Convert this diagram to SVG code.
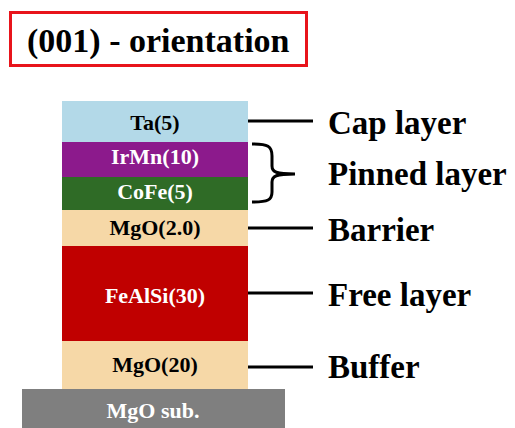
<svg xmlns="http://www.w3.org/2000/svg" width="515" height="428" viewBox="0 0 515 428">
<style>
.t{font-family:"Liberation Serif","Times New Roman",serif;font-weight:bold}
.lbl{font-size:33px;fill:#000}
.lay{font-size:22px;text-anchor:middle}
.dk{fill:#000}.wh{fill:#fff}
.ln{stroke:#000;stroke-width:3;fill:none}
</style>
<rect width="515" height="428" fill="#fff"/>
<g id="title">
<rect x="10.5" y="12.5" width="296" height="53" fill="none" stroke="#e8141b" stroke-width="3"/>
<text class="t" x="27" y="52" font-size="34">(001) - orientation</text>
</g>
<g id="ta"><rect x="62" y="101" width="186" height="41" fill="#b3d9e8"/><text class="t lay dk" x="155" y="130">Ta(5)</text></g>
<g id="irmn"><rect x="62" y="142" width="186" height="35" fill="#8c1a8c"/><text class="t lay wh" x="155" y="164">IrMn(10)</text></g>
<g id="cofe"><rect x="62" y="177" width="186" height="33" fill="#2f6b26"/><text class="t lay wh" x="155" y="199">CoFe(5)</text></g>
<g id="mgo2"><rect x="62" y="210" width="186" height="36" fill="#f6d8a7"/><text class="t lay dk" x="155" y="235">MgO(2.0)</text></g>
<g id="fealsi"><rect x="62" y="246" width="186" height="95" fill="#c00000"/><text class="t lay wh" x="155" y="303">FeAlSi(30)</text></g>
<g id="mgo20"><rect x="62" y="341" width="186" height="48" fill="#f6d8a7"/><text class="t lay dk" x="155" y="372">MgO(20)</text></g>
<g id="sub"><rect x="22" y="389" width="263" height="39" fill="#7f7f7f"/><text class="t lay wh" x="153" y="418">MgO sub.</text></g>
<g id="connectors">
<line class="ln" x1="248" y1="121" x2="313" y2="121"/>
<path class="ln" d="M252,144 C268,144 272,146 272,156 L272,166 C272,172 276,174 295,174 M295,174 C276,174 272,176 272,182 L272,192 C272,200 268,202 252,202"/>
<line class="ln" x1="248" y1="228" x2="313" y2="228"/>
<line class="ln" x1="248" y1="293" x2="313" y2="293"/>
<line class="ln" x1="248" y1="367" x2="313" y2="367"/>
</g>
<g id="labels">
<text class="t lbl" x="328" y="134">Cap layer</text>
<text class="t lbl" x="328" y="185">Pinned layer</text>
<text class="t lbl" x="328" y="241">Barrier</text>
<text class="t lbl" x="328" y="306">Free layer</text>
<text class="t lbl" x="328" y="378">Buffer</text>
</g>
</svg>
